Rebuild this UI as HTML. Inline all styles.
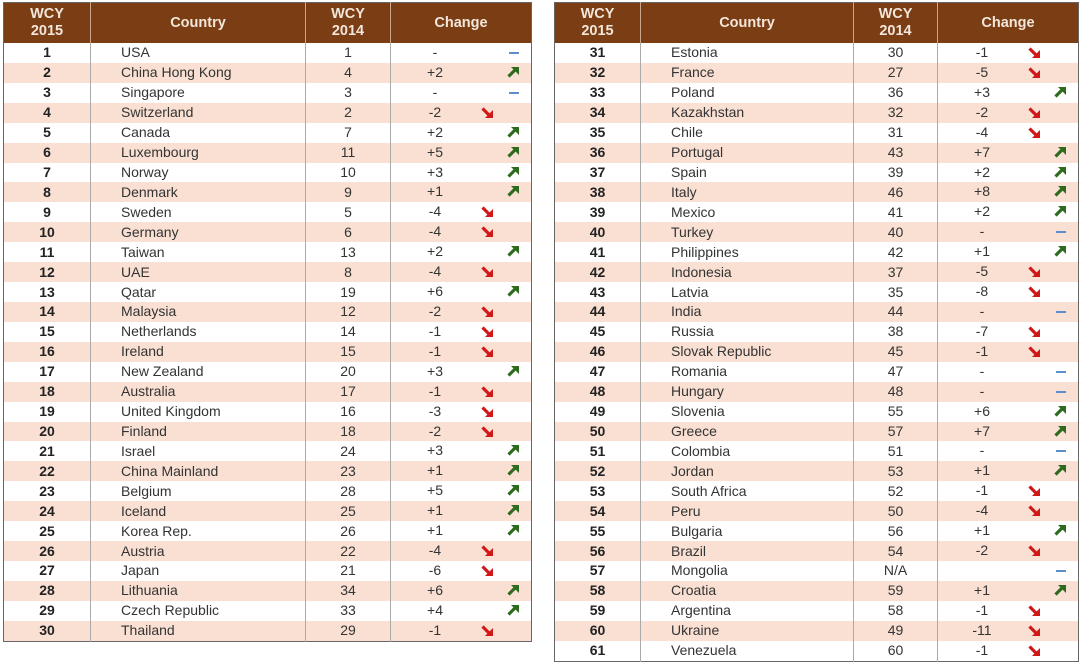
<!DOCTYPE html>
<html><head><meta charset="utf-8">
<style>
body{margin:0;width:1081px;height:666px;background:#fff;position:relative;overflow:hidden;font-family:"Liberation Sans",sans-serif;}
table{position:absolute;border-collapse:collapse;table-layout:fixed;border:1.5px solid #666;}
#L{left:3px;top:2px;width:528px;}
#R{left:554px;top:2px;width:524px;}
th{background:#7b3d14;color:#f3e6da;font-size:14.5px;font-weight:bold;height:40px;line-height:17px;padding:0;border-left:1px solid #c9a68c;}
th:first-child{border-left:none;}
td{height:19.93px;padding:0;font-size:14px;color:#333;border-left:1px solid #aaa;text-align:center;line-height:19px;}
td:first-child{border-left:none;font-weight:bold;color:#222;}
td:nth-child(2){text-align:left;padding-left:30px;}
tr:nth-child(odd) td{background:#f9e0d3;}
td:nth-child(4){position:relative;text-align:left;}
td i{font-style:normal;position:absolute;left:34px;width:20px;text-align:center;top:0;}
td b{position:absolute;top:4px;width:12px;height:11px;display:block;}
td b svg{display:block;}
b.u{right:12px;}
b.d{right:38px;}
b.n{right:12px;top:9px;height:2px;background:#5b8fc9;width:10px;}
</style></head><body>
<svg width="0" height="0" style="position:absolute"><defs>
<symbol id="up" viewBox="0 0 12 11"><line x1="1.5" y1="9.5" x2="8" y2="3" stroke="#2e6b1e" stroke-width="3.2"/><polygon points="4,0 12,0 12,8" fill="#2e6b1e"/></symbol>
<symbol id="dn" viewBox="0 0 12 11"><line x1="1.5" y1="1.5" x2="8" y2="8" stroke="#d01818" stroke-width="3.2"/><polygon points="4,11 12,11 12,3" fill="#d01818"/></symbol>
</defs></svg>
<table id="L">
<colgroup><col style="width:87px"><col style="width:215px"><col style="width:85px"><col style="width:141px"></colgroup>
<tr><th>WCY<br>2015</th><th>Country</th><th>WCY<br>2014</th><th>Change</th></tr>
<tr><td>1</td><td>USA</td><td>1</td><td><i>-</i><b class="n"></b></td></tr>
<tr><td>2</td><td>China Hong Kong</td><td>4</td><td><i>+2</i><b class="u"><svg width="12" height="11"><use href="#up"/></svg></b></td></tr>
<tr><td>3</td><td>Singapore</td><td>3</td><td><i>-</i><b class="n"></b></td></tr>
<tr><td>4</td><td>Switzerland</td><td>2</td><td><i>-2</i><b class="d"><svg width="12" height="11"><use href="#dn"/></svg></b></td></tr>
<tr><td>5</td><td>Canada</td><td>7</td><td><i>+2</i><b class="u"><svg width="12" height="11"><use href="#up"/></svg></b></td></tr>
<tr><td>6</td><td>Luxembourg</td><td>11</td><td><i>+5</i><b class="u"><svg width="12" height="11"><use href="#up"/></svg></b></td></tr>
<tr><td>7</td><td>Norway</td><td>10</td><td><i>+3</i><b class="u"><svg width="12" height="11"><use href="#up"/></svg></b></td></tr>
<tr><td>8</td><td>Denmark</td><td>9</td><td><i>+1</i><b class="u"><svg width="12" height="11"><use href="#up"/></svg></b></td></tr>
<tr><td>9</td><td>Sweden</td><td>5</td><td><i>-4</i><b class="d"><svg width="12" height="11"><use href="#dn"/></svg></b></td></tr>
<tr><td>10</td><td>Germany</td><td>6</td><td><i>-4</i><b class="d"><svg width="12" height="11"><use href="#dn"/></svg></b></td></tr>
<tr><td>11</td><td>Taiwan</td><td>13</td><td><i>+2</i><b class="u"><svg width="12" height="11"><use href="#up"/></svg></b></td></tr>
<tr><td>12</td><td>UAE</td><td>8</td><td><i>-4</i><b class="d"><svg width="12" height="11"><use href="#dn"/></svg></b></td></tr>
<tr><td>13</td><td>Qatar</td><td>19</td><td><i>+6</i><b class="u"><svg width="12" height="11"><use href="#up"/></svg></b></td></tr>
<tr><td>14</td><td>Malaysia</td><td>12</td><td><i>-2</i><b class="d"><svg width="12" height="11"><use href="#dn"/></svg></b></td></tr>
<tr><td>15</td><td>Netherlands</td><td>14</td><td><i>-1</i><b class="d"><svg width="12" height="11"><use href="#dn"/></svg></b></td></tr>
<tr><td>16</td><td>Ireland</td><td>15</td><td><i>-1</i><b class="d"><svg width="12" height="11"><use href="#dn"/></svg></b></td></tr>
<tr><td>17</td><td>New Zealand</td><td>20</td><td><i>+3</i><b class="u"><svg width="12" height="11"><use href="#up"/></svg></b></td></tr>
<tr><td>18</td><td>Australia</td><td>17</td><td><i>-1</i><b class="d"><svg width="12" height="11"><use href="#dn"/></svg></b></td></tr>
<tr><td>19</td><td>United Kingdom</td><td>16</td><td><i>-3</i><b class="d"><svg width="12" height="11"><use href="#dn"/></svg></b></td></tr>
<tr><td>20</td><td>Finland</td><td>18</td><td><i>-2</i><b class="d"><svg width="12" height="11"><use href="#dn"/></svg></b></td></tr>
<tr><td>21</td><td>Israel</td><td>24</td><td><i>+3</i><b class="u"><svg width="12" height="11"><use href="#up"/></svg></b></td></tr>
<tr><td>22</td><td>China Mainland</td><td>23</td><td><i>+1</i><b class="u"><svg width="12" height="11"><use href="#up"/></svg></b></td></tr>
<tr><td>23</td><td>Belgium</td><td>28</td><td><i>+5</i><b class="u"><svg width="12" height="11"><use href="#up"/></svg></b></td></tr>
<tr><td>24</td><td>Iceland</td><td>25</td><td><i>+1</i><b class="u"><svg width="12" height="11"><use href="#up"/></svg></b></td></tr>
<tr><td>25</td><td>Korea Rep.</td><td>26</td><td><i>+1</i><b class="u"><svg width="12" height="11"><use href="#up"/></svg></b></td></tr>
<tr><td>26</td><td>Austria</td><td>22</td><td><i>-4</i><b class="d"><svg width="12" height="11"><use href="#dn"/></svg></b></td></tr>
<tr><td>27</td><td>Japan</td><td>21</td><td><i>-6</i><b class="d"><svg width="12" height="11"><use href="#dn"/></svg></b></td></tr>
<tr><td>28</td><td>Lithuania</td><td>34</td><td><i>+6</i><b class="u"><svg width="12" height="11"><use href="#up"/></svg></b></td></tr>
<tr><td>29</td><td>Czech Republic</td><td>33</td><td><i>+4</i><b class="u"><svg width="12" height="11"><use href="#up"/></svg></b></td></tr>
<tr><td>30</td><td>Thailand</td><td>29</td><td><i>-1</i><b class="d"><svg width="12" height="11"><use href="#dn"/></svg></b></td></tr>
</table>
<table id="R">
<colgroup><col style="width:86px"><col style="width:213px"><col style="width:84px"><col style="width:141px"></colgroup>
<tr><th>WCY<br>2015</th><th>Country</th><th>WCY<br>2014</th><th>Change</th></tr>
<tr><td>31</td><td>Estonia</td><td>30</td><td><i>-1</i><b class="d"><svg width="12" height="11"><use href="#dn"/></svg></b></td></tr>
<tr><td>32</td><td>France</td><td>27</td><td><i>-5</i><b class="d"><svg width="12" height="11"><use href="#dn"/></svg></b></td></tr>
<tr><td>33</td><td>Poland</td><td>36</td><td><i>+3</i><b class="u"><svg width="12" height="11"><use href="#up"/></svg></b></td></tr>
<tr><td>34</td><td>Kazakhstan</td><td>32</td><td><i>-2</i><b class="d"><svg width="12" height="11"><use href="#dn"/></svg></b></td></tr>
<tr><td>35</td><td>Chile</td><td>31</td><td><i>-4</i><b class="d"><svg width="12" height="11"><use href="#dn"/></svg></b></td></tr>
<tr><td>36</td><td>Portugal</td><td>43</td><td><i>+7</i><b class="u"><svg width="12" height="11"><use href="#up"/></svg></b></td></tr>
<tr><td>37</td><td>Spain</td><td>39</td><td><i>+2</i><b class="u"><svg width="12" height="11"><use href="#up"/></svg></b></td></tr>
<tr><td>38</td><td>Italy</td><td>46</td><td><i>+8</i><b class="u"><svg width="12" height="11"><use href="#up"/></svg></b></td></tr>
<tr><td>39</td><td>Mexico</td><td>41</td><td><i>+2</i><b class="u"><svg width="12" height="11"><use href="#up"/></svg></b></td></tr>
<tr><td>40</td><td>Turkey</td><td>40</td><td><i>-</i><b class="n"></b></td></tr>
<tr><td>41</td><td>Philippines</td><td>42</td><td><i>+1</i><b class="u"><svg width="12" height="11"><use href="#up"/></svg></b></td></tr>
<tr><td>42</td><td>Indonesia</td><td>37</td><td><i>-5</i><b class="d"><svg width="12" height="11"><use href="#dn"/></svg></b></td></tr>
<tr><td>43</td><td>Latvia</td><td>35</td><td><i>-8</i><b class="d"><svg width="12" height="11"><use href="#dn"/></svg></b></td></tr>
<tr><td>44</td><td>India</td><td>44</td><td><i>-</i><b class="n"></b></td></tr>
<tr><td>45</td><td>Russia</td><td>38</td><td><i>-7</i><b class="d"><svg width="12" height="11"><use href="#dn"/></svg></b></td></tr>
<tr><td>46</td><td>Slovak Republic</td><td>45</td><td><i>-1</i><b class="d"><svg width="12" height="11"><use href="#dn"/></svg></b></td></tr>
<tr><td>47</td><td>Romania</td><td>47</td><td><i>-</i><b class="n"></b></td></tr>
<tr><td>48</td><td>Hungary</td><td>48</td><td><i>-</i><b class="n"></b></td></tr>
<tr><td>49</td><td>Slovenia</td><td>55</td><td><i>+6</i><b class="u"><svg width="12" height="11"><use href="#up"/></svg></b></td></tr>
<tr><td>50</td><td>Greece</td><td>57</td><td><i>+7</i><b class="u"><svg width="12" height="11"><use href="#up"/></svg></b></td></tr>
<tr><td>51</td><td>Colombia</td><td>51</td><td><i>-</i><b class="n"></b></td></tr>
<tr><td>52</td><td>Jordan</td><td>53</td><td><i>+1</i><b class="u"><svg width="12" height="11"><use href="#up"/></svg></b></td></tr>
<tr><td>53</td><td>South Africa</td><td>52</td><td><i>-1</i><b class="d"><svg width="12" height="11"><use href="#dn"/></svg></b></td></tr>
<tr><td>54</td><td>Peru</td><td>50</td><td><i>-4</i><b class="d"><svg width="12" height="11"><use href="#dn"/></svg></b></td></tr>
<tr><td>55</td><td>Bulgaria</td><td>56</td><td><i>+1</i><b class="u"><svg width="12" height="11"><use href="#up"/></svg></b></td></tr>
<tr><td>56</td><td>Brazil</td><td>54</td><td><i>-2</i><b class="d"><svg width="12" height="11"><use href="#dn"/></svg></b></td></tr>
<tr><td>57</td><td>Mongolia</td><td>N/A</td><td><i></i><b class="n"></b></td></tr>
<tr><td>58</td><td>Croatia</td><td>59</td><td><i>+1</i><b class="u"><svg width="12" height="11"><use href="#up"/></svg></b></td></tr>
<tr><td>59</td><td>Argentina</td><td>58</td><td><i>-1</i><b class="d"><svg width="12" height="11"><use href="#dn"/></svg></b></td></tr>
<tr><td>60</td><td>Ukraine</td><td>49</td><td><i>-11</i><b class="d"><svg width="12" height="11"><use href="#dn"/></svg></b></td></tr>
<tr><td>61</td><td>Venezuela</td><td>60</td><td><i>-1</i><b class="d"><svg width="12" height="11"><use href="#dn"/></svg></b></td></tr>
</table>
</body></html>
